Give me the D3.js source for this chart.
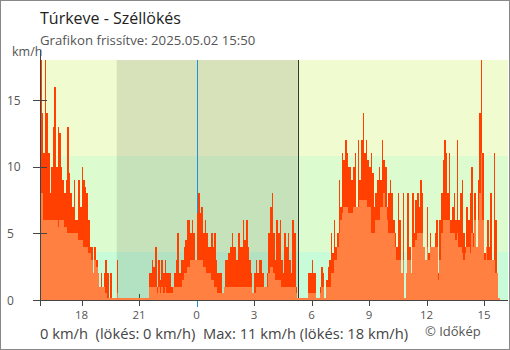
<!DOCTYPE html>
<html>
<head>
<meta charset="utf-8">
<script src="https://cdn.jsdelivr.net/npm/d3@7"></script>
<style>
  html, body { margin: 0; padding: 0; background: #fff; }
  svg { display: block; font-family: "Open Sans", sans-serif; }
</style>
</head>
<body>
<svg id="chart" width="510" height="350"></svg>
<script>
// Túrkeve wind gusts, 5-minute samples from 2025-05-01 15:50 to 2025-05-02 15:45
const titleText = "Túrkeve - Széllökés";
const updatedText = "Grafikon frissítve: 2025.05.02 15:50";
const unitText = "km/h";
const summaryText = "0 km/h  (lökés: 0 km/h)  Max: 11 km/h (lökés: 18 km/h)";
const creditText = "© Időkép";

const seriesStart = new Date(2025, 4, 1, 15, 50);
const axisEnd = new Date(2025, 4, 2, 16, 15);
const stepMinutes = 5;
const sunset = new Date(2025, 4, 1, 19, 50);
const sunrise = new Date(2025, 4, 2, 5, 17);
const midnight = new Date(2025, 4, 2, 0, 0);

// gust (lökés), km/h
const gustKmh = [
  18, 14, 11, 18, 14, 11, 8, 10, 13, 16, 10, 13, 12.5, 10, 9, 8, 9, 13, 9.5, 8, 7, 9, 6, 6, 9, 7, 10, 9, 8.5, 8, 6, 4, 4, 2, 4, 3, 2, 1, 2, 1, 2,
  3, 2, 0, 2, 0, 0, 0, 3, 0, 0, 0, 0, 0, 0, 0, 0, 0, 0, 0, 0, 0, 0, 0, 0, 0, 0, 0, 2, 2, 3, 2.5, 4, 1, 3, 1.5, 3, 2, 3, 2, 2, 2, 1,
  1, 2, 3, 5, 2, 3, 3, 4, 4.5, 6, 6, 5, 6, 5, 3, 6.5, 8, 6.5, 7, 5, 6, 5, 4, 4, 5, 4, 5, 3, 2, 2, 2, 0.5, 1, 3, 3, 3.5, 4, 5, 4, 4, 3,
  5, 4, 4, 6, 4.5, 6, 4, 3, 2, 0.5, 2, 3, 2, 3, 3, 2, 1, 1, 2, 5, 7, 8, 5, 3, 6, 5, 6, 3, 2, 5, 4, 5, 3, 2, 6, 5, 1, 0, 0, 0, 0, 0,
  0, 0, 2, 2, 3, 2, 2, 0, 0, 1, 2.5, 2, 0, 1.5, 2.5, 3, 5, 3.5, 6, 4, 5, 9, 7, 11, 10.5, 12, 11, 10, 10, 9, 10, 11, 7, 12, 9, 12, 14, 11, 12, 10.5, 10,
  11, 9.5, 7, 8, 9, 10, 9, 12, 10.5, 10, 7, 8, 9, 8, 6, 5, 4, 8, 6, 2, 8, 0, 2, 8, 4, 2, 8, 5, 7.5, 8, 7, 9, 8, 4, 3, 7, 3.5, 5, 4, 4, 5, 6,
  2, 6, 8, 10.5, 12, 11, 8, 11, 6, 7, 8, 6, 12, 6, 8, 9, 5, 4, 7, 6, 8, 10, 5, 8, 4, 9, 14, 18, 11, 3.5, 4, 6, 4, 8, 3, 11, 6, 2, 0
];

// average wind speed, km/h
const avgKmh = [
  8, 8, 6, 6, 6, 6, 6, 6, 6, 6, 6, 5.5, 6, 6, 6, 5.5, 5.5, 5, 5, 5, 5, 5, 5, 5, 4.5, 4.5, 4.5, 4, 4, 4, 3.5, 3.5, 3, 2, 3, 2.5, 2, 1, 1, 1, 1,
  0.5, 0, 0, 0, 0, 0, 0, 0.5, 0, 0, 0, 0, 0, 0, 0, 0, 0, 0, 0, 0, 0, 0, 0, 0, 0, 0, 0, 1, 1, 1, 1, 1, 0.5, 1, 0.5, 1, 0.5, 1, 0.5, 0.5, 0.5, 0.5,
  1, 1, 1, 1, 1, 1, 1.5, 2, 2, 2.5, 2.5, 3, 3, 3, 3, 3, 3, 3, 3, 2.5, 2.5, 2, 2, 2, 1.5, 1.5, 1, 1, 0.5, 0.5, 0.5, 0.5, 1, 1, 1, 1, 1, 1, 1, 1, 1,
  1, 1, 1, 1, 1, 1, 1, 1, 1, 0.5, 0.5, 1, 1, 1, 1, 1, 1, 1, 1, 2, 2.5, 2.5, 2, 1.5, 1.5, 1.5, 1.5, 1, 1, 1, 1, 1, 1, 1, 1, 1, 0.5, 0, 0, 0, 0, 0,
  0, 0, 0.5, 0.5, 0.5, 0.5, 0.5, 0, 0, 0.5, 1, 1, 0, 1, 1, 1, 2, 2, 3, 3, 4, 5, 6, 6.5, 7, 7, 7, 6.5, 6.5, 6.5, 7, 7, 7, 7, 7.5, 7.5, 7.5, 7.5, 7.5, 7, 7,
  5, 5, 5, 6, 6, 6, 7, 7, 8, 7, 6, 5, 5, 5, 5, 4, 3, 3, 3, 2, 3, 0, 2, 3, 3, 2, 4, 4, 4.5, 5, 5, 5, 5, 4, 3, 4, 3, 4, 4, 4, 4, 4,
  1.5, 3, 5, 6, 6, 6, 6, 6, 5, 5, 5, 4.5, 5, 4, 4, 3.5, 3, 3.5, 4, 4, 3.5, 5, 4, 6, 4, 6, 8, 11, 6, 3, 4, 3, 3, 3, 3, 3, 2, 2, 0
];

const yTicks = [0, 5, 10, 15];
const yMax = 18;
const tickEveryHours = 3;
// wind strength bands (km/h): calm, light air, light breeze
const bandLimits = [0, 3.6, 10.8, 18];

const svg = d3.select("#chart");
const W = 510, H = 350;
const plotLeft = 40, plotRight = 508, plotTop = 60, plotBottom = 300;

const x = d3.scaleTime().domain([seriesStart, axisEnd]).range([plotLeft, plotRight]);
const y = d3.scaleLinear().domain([0, yMax]).range([plotBottom, plotTop]);

const samples = gustKmh.map((g, i) => ({
  t0: d3.timeMinute.offset(seriesStart, i * stepMinutes),
  t1: d3.timeMinute.offset(seriesStart, (i + 1) * stepMinutes),
  gust: g,
  avg: avgKmh[i]
}));

// frame
svg.append("rect").attr("x", 0.5).attr("y", 0.5).attr("width", W - 1).attr("height", H - 1)
  .attr("fill", "#fff").attr("stroke", "#888");

// background bands
const bandColors = ["#c8fcd8", "#dcfcd0", "#f0fcd0"];
svg.append("g").selectAll("rect").data(d3.pairs(bandLimits)).join("rect")
  .attr("x", plotLeft).attr("width", plotRight - plotLeft)
  .attr("y", d => y(d[1])).attr("height", d => y(d[0]) - y(d[1]))
  .attr("fill", (d, i) => bandColors[i]);

// night shading
svg.append("rect")
  .attr("x", x(sunset)).attr("width", x(sunrise) - x(sunset))
  .attr("y", plotTop).attr("height", plotBottom - plotTop)
  .attr("fill", "#000").attr("fill-opacity", 0.1);

// x ticks (behind the bars)
const hourTicks = d3.timeHour.range(new Date(2025, 4, 1, 18), axisEnd, tickEveryHours);
const axisColor = "#444";
const midnightColor = "#2090e0";
svg.append("g").selectAll("line").data(hourTicks).join("line")
  .attr("x1", d => Math.round(x(d)) + 0.5).attr("x2", d => Math.round(x(d)) + 0.5)
  .attr("y1", plotBottom - 6).attr("y2", plotBottom + 6)
  .attr("stroke", d => d.getHours() === 0 ? midnightColor : axisColor);

// sunrise and midnight markers
svg.append("line")
  .attr("x1", Math.round(x(sunrise)) + 0.5).attr("x2", Math.round(x(sunrise)) + 0.5)
  .attr("y1", plotTop).attr("y2", plotBottom).attr("stroke", "#333");
svg.append("line")
  .attr("x1", Math.round(x(midnight)) + 0.5).attr("x2", Math.round(x(midnight)) + 0.5)
  .attr("y1", plotTop).attr("y2", plotBottom + 7).attr("stroke", midnightColor);

// gust bars, average bars on top
const bars = svg.append("g").attr("shape-rendering", "crispEdges");
bars.selectAll("rect.gust").data(samples).join("rect").attr("class", "gust")
  .attr("x", d => x(d.t0)).attr("width", d => x(d.t1) - x(d.t0))
  .attr("y", d => y(d.gust)).attr("height", d => plotBottom - y(d.gust))
  .attr("fill", "#ff4000");
bars.selectAll("rect.avg").data(samples).join("rect").attr("class", "avg")
  .attr("x", d => x(d.t0)).attr("width", d => x(d.t1) - x(d.t0))
  .attr("y", d => Math.min(y(d.avg), plotBottom - 2)).attr("height", d => Math.max(plotBottom - y(d.avg), 2))
  .attr("fill", "#ff8040");

// axis lines
svg.append("line").attr("x1", plotLeft + 0.5).attr("x2", plotLeft + 0.5).attr("y1", 50).attr("y2", plotBottom + 6)
  .attr("stroke", axisColor);
svg.append("line").attr("x1", 33).attr("x2", plotRight).attr("y1", plotBottom + 0.5).attr("y2", plotBottom + 0.5)
  .attr("stroke", axisColor);

// y ticks and labels
const yAxis = svg.append("g");
yAxis.selectAll("line").data(yTicks).join("line")
  .attr("x1", 33).attr("x2", 47)
  .attr("y1", d => Math.round(y(d)) + 0.5).attr("y2", d => Math.round(y(d)) + 0.5)
  .attr("stroke", axisColor);
yAxis.selectAll("text").data(yTicks).join("text")
  .attr("x", 7).attr("y", d => y(d) + 4.5)
  .attr("font-size", 12).attr("fill", "#555")
  .text(d => d);

// x labels
svg.append("g").selectAll("text").data(hourTicks).join("text")
  .attr("x", d => x(d)).attr("y", 319)
  .attr("text-anchor", "middle").attr("font-size", 11.5).attr("fill", "#555")
  .text(d => d.getHours());

// titles and notes
svg.append("text").attr("x", 40).attr("y", 23.5).attr("font-size", 16).attr("fill", "#222").text(titleText);
svg.append("text").attr("x", 40).attr("y", 45).attr("font-size", 13.2).attr("fill", "#555").text(updatedText);
svg.append("text").attr("x", 12).attr("y", 56).attr("font-size", 12.5).attr("fill", "#555").text(unitText);
svg.append("text").attr("x", 40).attr("y", 339).attr("font-size", 14.7).attr("fill", "#444")
  .attr("xml:space", "preserve").style("white-space", "pre").text(summaryText);
svg.append("text").attr("x", 425).attr("y", 336).attr("font-size", 13).attr("fill", "#555").text(creditText);
</script>
</body>
</html>
